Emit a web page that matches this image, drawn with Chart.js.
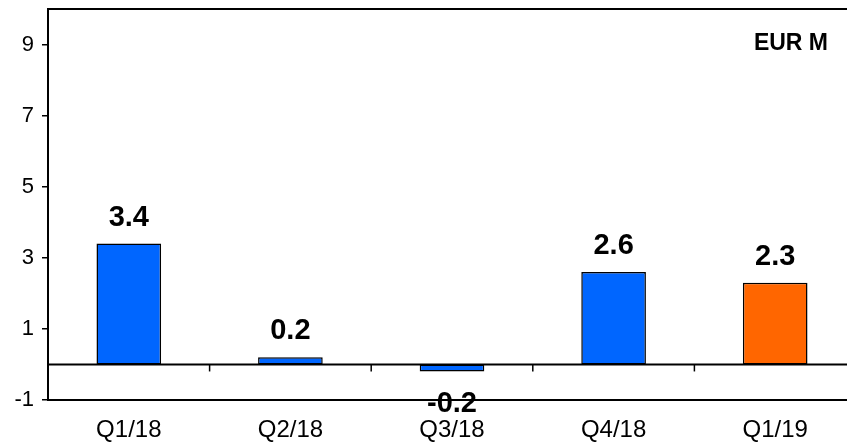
<!DOCTYPE html>
<html>
<head>
<meta charset="utf-8">
<script src="https://cdn.jsdelivr.net/npm/chart.js@4"></script>
<style>
  html, body { margin: 0; padding: 0; background: #fff; overflow: hidden; }
  #wrap { width: 856px; height: 443px; }
</style>
</head>
<body>
<div id="wrap"><canvas id="c" width="856" height="443"></canvas></div>
<script>
// Quarterly result, EUR million
const quarters = ['Q1/18', 'Q2/18', 'Q3/18', 'Q4/18', 'Q1/19'];
const values = [3.4, 0.2, -0.2, 2.6, 2.3];
const barColors = ['#0066FF', '#0066FF', '#0066FF', '#0066FF', '#FF6600'];
const yTickValues = [-1, 1, 3, 5, 7, 9];
const unitLabel = 'EUR M';

const FONT = 'Liberation Sans, Arial, sans-serif';

// Frame top line, zero line with category ticks, value labels and unit caption
const decorations = {
  id: 'decorations',
  afterDatasetsDraw(chart) {
    const { ctx, chartArea, scales } = chart;
    const x = scales.x, y = scales.y;
    ctx.save();
    ctx.strokeStyle = '#000';
    ctx.lineWidth = 2;
    // top frame line
    ctx.beginPath();
    ctx.moveTo(chartArea.left, chartArea.top);
    ctx.lineTo(chartArea.right, chartArea.top);
    ctx.stroke();
    // zero line
    const y0 = y.getPixelForValue(0);
    ctx.beginPath();
    ctx.moveTo(chartArea.left, y0);
    ctx.lineTo(chartArea.right, y0);
    ctx.stroke();
    // category separator ticks hanging from the zero line
    ctx.lineWidth = 1.5;
    for (let i = 0; i < quarters.length - 1; i++) {
      const bx = (x.getPixelForValue(i) + x.getPixelForValue(i + 1)) / 2;
      ctx.beginPath();
      ctx.moveTo(bx, y0);
      ctx.lineTo(bx, y0 + 7);
      ctx.stroke();
    }
    // value labels
    const meta = chart.getDatasetMeta(0);
    ctx.fillStyle = '#000';
    ctx.font = 'bold 29px ' + FONT;
    ctx.textAlign = 'center';
    ctx.textBaseline = 'alphabetic';
    meta.data.forEach((bar, i) => {
      const v = values[i];
      const txt = v.toFixed(1);
      if (v >= 0) {
        ctx.fillText(txt, bar.x, bar.y - 18);
      } else {
        ctx.fillText(txt, bar.x, bar.y + 40);
      }
    });
    // unit caption
    ctx.font = 'bold 23px ' + FONT;
    ctx.textAlign = 'right';
    ctx.fillText(unitLabel, 828, 50);
    ctx.restore();
  }
};

new Chart(document.getElementById('c'), {
  type: 'bar',
  data: {
    labels: quarters,
    datasets: [{
      data: values,
      backgroundColor: barColors,
      borderColor: '#000',
      borderWidth: 1.5,
      borderSkipped: false,
      categoryPercentage: 1,
      barPercentage: 0.4
    }]
  },
  options: {
    responsive: false,
    animation: false,
    layout: { padding: { top: 9, right: 0, left: 0, bottom: 0 } },
    plugins: { legend: { display: false }, tooltip: { enabled: false } },
    scales: {
      x: {
        grid: { display: false },
        border: { display: true, color: '#000', width: 2 },
        ticks: { color: '#000', font: { family: FONT, size: 24 }, padding: 8, maxRotation: 0 },
        afterFit(s) { s.height = 43; s.paddingLeft = 0; s.paddingRight = 0; }
      },
      y: {
        min: -1,
        max: 10,
        afterBuildTicks(s) { s.ticks = yTickValues.map(v => ({ value: v })); },
        grid: { drawOnChartArea: false, drawTicks: true, tickLength: 6, color: '#000', lineWidth: 1.5 },
        border: { display: true, color: '#000', width: 2 },
        ticks: { color: '#000', font: { family: FONT, size: 22 }, padding: 8 },
        afterFit(s) { s.width = 48; s.paddingTop = 0; s.paddingBottom = 0; }
      }
    }
  },
  plugins: [decorations]
});
</script>
</body>
</html>
